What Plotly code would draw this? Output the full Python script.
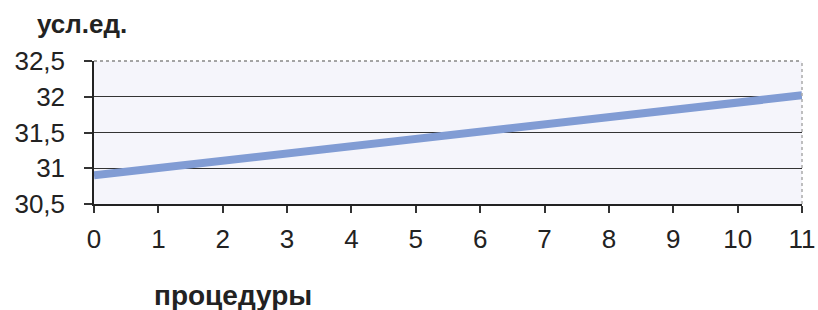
import plotly.graph_objects as go

procedures = [0, 11]
values = [30.9, 32.02]
x_ticks = list(range(0, 12))
y_ticks = [30.5, 31, 31.5, 32, 32.5]
y_tick_labels = ["30,5", "31", "31,5", "32", "32,5"]

PW, PH = 708, 143  # plot area size in px

fig = go.Figure()
fig.add_trace(go.Scatter(
    x=procedures, y=values, mode="lines",
    line=dict(color="#819cd4", width=8),
    showlegend=False, hoverinfo="skip",
))

font_family = "Liberation Sans, Arial, sans-serif"
fig.update_layout(
    width=818, height=310,
    margin=dict(l=94, r=16, t=61, b=106, autoexpand=False),
    paper_bgcolor="white",
    plot_bgcolor="#f5f5fb",
    font=dict(family=font_family, color="#222222"),
    xaxis=dict(
        range=[0, 11], tickvals=x_ticks, ticktext=[str(v) for v in x_ticks],
        showgrid=False, zeroline=False, automargin=False,
        showline=True, linecolor="#222222", linewidth=2,
        ticks="outside", ticklen=7, tickwidth=1.5, tickcolor="#333333",
        tickfont=dict(size=26, color="#222222"),
        ticklabelstandoff=4,
    ),
    yaxis=dict(
        range=[30.5, 32.5], tickvals=y_ticks, ticktext=y_tick_labels,
        showgrid=True, gridcolor="#333333", gridwidth=1.3,
        zeroline=False, automargin=False,
        showline=True, linecolor="#222222", linewidth=1.5,
        ticks="outside", ticklen=8, tickwidth=1.5, tickcolor="#333333",
        tickfont=dict(size=26, color="#222222"),
        ticklabelstandoff=14,
    ),
    shapes=[
        dict(type="line", xref="paper", yref="paper", x0=0, x1=1, y0=1, y1=1,
             line=dict(color="#888888", width=1.5, dash="dot")),
        dict(type="line", xref="paper", yref="paper", x0=1, x1=1, y0=0, y1=1,
             line=dict(color="#aaaaaa", width=1.5, dash="dot")),
    ],
    annotations=[
        dict(text="<b>усл.ед.</b>", xref="paper", yref="paper",
             x=(35 - 94) / PW, y=1 + (61 - 24) / PH, xanchor="left", yanchor="middle",
             showarrow=False, font=dict(size=26, color="#222222", family=font_family)),
        dict(text="<b>процедуры</b>", xref="paper", yref="paper",
             x=(152 - 94) / PW, y=-(295 - 204) / PH, xanchor="left", yanchor="middle",
             showarrow=False, font=dict(size=28, color="#222222", family=font_family)),
    ],
)

fig.write_html(
    "out.html",
    config={"displayModeBar": False},
    post_script="document.body.style.margin='0';document.body.style.overflow='hidden';",
)
